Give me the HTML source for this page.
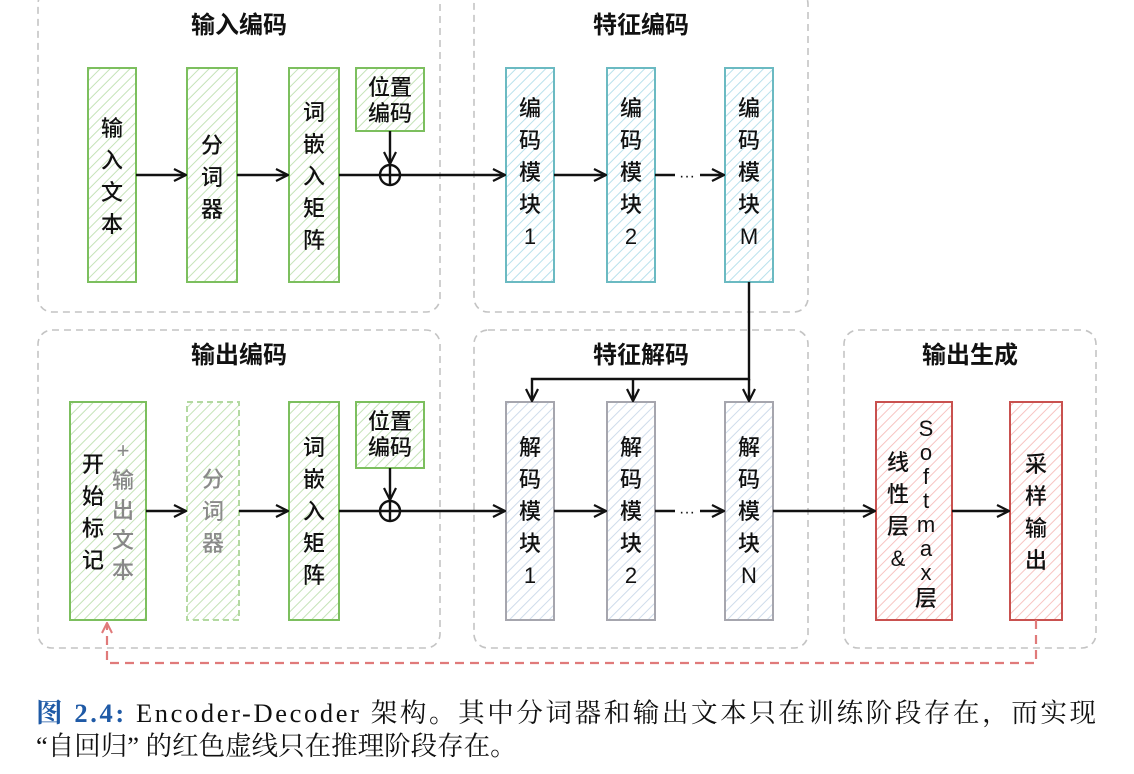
<!DOCTYPE html>
<html><head><meta charset="utf-8"><style>
html,body{margin:0;padding:0;background:#fff;}
svg{display:block;}
.t{font-family:"Liberation Sans","Noto Sans CJK SC",sans-serif;font-size:22px;fill:#111;text-anchor:middle;font-weight:500;}
.g{fill:#888;}
.h{font-family:"Liberation Sans","Noto Sans CJK SC",sans-serif;font-size:24px;font-weight:bold;fill:#111;text-anchor:middle;}
.cap{font-family:"Liberation Serif","Noto Serif CJK SC",serif;font-size:26.5px;fill:#111;}
</style></head><body>
<svg width="1134" height="774" viewBox="0 0 1134 774" xmlns="http://www.w3.org/2000/svg">
<defs>
<pattern id="pg" width="7" height="7" patternUnits="userSpaceOnUse" patternTransform="rotate(45)"><line x1="0" y1="0" x2="0" y2="7" stroke="#c5e3b8" stroke-width="2"/></pattern>
<pattern id="pb" width="7" height="7" patternUnits="userSpaceOnUse" patternTransform="rotate(45)"><line x1="0" y1="0" x2="0" y2="7" stroke="#b9e1ec" stroke-width="2"/></pattern>
<pattern id="pk" width="7" height="7" patternUnits="userSpaceOnUse" patternTransform="rotate(45)"><line x1="0" y1="0" x2="0" y2="7" stroke="#cfdceb" stroke-width="2"/></pattern>
<pattern id="pr" width="7" height="7" patternUnits="userSpaceOnUse" patternTransform="rotate(45)"><line x1="0" y1="0" x2="0" y2="7" stroke="#f7c4c2" stroke-width="2"/></pattern>
<marker id="ar" viewBox="0 0 14 14" refX="13" refY="7" markerWidth="14" markerHeight="14" markerUnits="userSpaceOnUse" orient="auto"><path d="M1,1 L13,7 L1,13 M4,7 L13,7" fill="none" stroke="#111" stroke-width="2.2"/></marker>
<marker id="arr" viewBox="0 0 12 12" refX="11" refY="6" markerWidth="12" markerHeight="12" markerUnits="userSpaceOnUse" orient="auto"><path d="M1,1 L11,6 L1,11" fill="none" stroke="#e07a7a" stroke-width="2"/></marker>
</defs>
<g fill="none" stroke="#c4c4c4" stroke-width="1.6" stroke-dasharray="7,5">
<rect x="38" y="-10" width="402" height="322" rx="14"/>
<rect x="474" y="-10" width="334" height="322" rx="14"/>
<rect x="38" y="330" width="402" height="318" rx="14"/>
<rect x="474" y="330" width="334" height="318" rx="14"/>
<rect x="844" y="330" width="252" height="318" rx="14"/>
</g>
<text class="h" x="239" y="33">输入编码</text>
<text class="h" x="641" y="33">特征编码</text>
<text class="h" x="239" y="363">输出编码</text>
<text class="h" x="641" y="363">特征解码</text>
<text class="h" x="970" y="363">输出生成</text>
<g stroke="#7cbf5e" stroke-width="2">
<rect x="88" y="68" width="48" height="214" fill="url(#pg)"/>
<rect x="187" y="68" width="50" height="214" fill="url(#pg)"/>
<rect x="289" y="68" width="50" height="214" fill="url(#pg)"/>
<rect x="356" y="68" width="68" height="63" fill="url(#pg)"/>
<rect x="70" y="402" width="76" height="218" fill="url(#pg)"/>
<rect x="289" y="402" width="50" height="218" fill="url(#pg)"/>
<rect x="356" y="402" width="68" height="66" fill="url(#pg)"/>
</g>
<rect x="187" y="402" width="52" height="218" fill="url(#pg)" stroke="#b3d9a1" stroke-width="2" stroke-dasharray="6,4"/>
<g stroke="#6bbac2" stroke-width="2" fill="url(#pb)">
<rect x="506" y="68" width="48" height="214"/><rect x="607" y="68" width="48" height="214"/><rect x="725" y="68" width="48" height="214"/>
</g>
<g stroke="#a6a6ae" stroke-width="2" fill="url(#pk)">
<rect x="506" y="402" width="48" height="218"/><rect x="607" y="402" width="48" height="218"/><rect x="725" y="402" width="48" height="218"/>
</g>
<g stroke="#c9514f" stroke-width="2" fill="url(#pr)">
<rect x="876" y="402" width="76" height="218"/><rect x="1010" y="402" width="52" height="218"/>
</g>
<g stroke="#111" stroke-width="2.4" fill="none">
<line x1="136" y1="175" x2="186" y2="175" marker-end="url(#ar)"/>
<line x1="237" y1="175" x2="288" y2="175" marker-end="url(#ar)"/>
<line x1="339" y1="175" x2="505" y2="175" marker-end="url(#ar)"/>
<line x1="390" y1="131" x2="390" y2="164" marker-end="url(#ar)"/>
<circle cx="390" cy="175" r="10" fill="#fff"/><line x1="380" y1="175" x2="400" y2="175"/><line x1="390" y1="165" x2="390" y2="185"/>
<line x1="554" y1="175" x2="606" y2="175" marker-end="url(#ar)"/>
<line x1="655" y1="175" x2="675" y2="175"/><line x1="700" y1="175" x2="724" y2="175" marker-end="url(#ar)"/>
<line x1="146" y1="511" x2="186" y2="511" marker-end="url(#ar)"/>
<line x1="239" y1="511" x2="288" y2="511" marker-end="url(#ar)"/>
<line x1="339" y1="511" x2="505" y2="511" marker-end="url(#ar)"/>
<line x1="390" y1="468" x2="390" y2="500" marker-end="url(#ar)"/>
<circle cx="390" cy="511" r="10" fill="#fff"/><line x1="380" y1="511" x2="400" y2="511"/><line x1="390" y1="501" x2="390" y2="521"/>
<line x1="554" y1="511" x2="606" y2="511" marker-end="url(#ar)"/>
<line x1="655" y1="511" x2="675" y2="511"/><line x1="700" y1="511" x2="724" y2="511" marker-end="url(#ar)"/>
<line x1="773" y1="511" x2="875" y2="511" marker-end="url(#ar)"/>
<line x1="952" y1="511" x2="1009" y2="511" marker-end="url(#ar)"/>
<polyline points="749,282 749,379 532,379 532,401" marker-end="url(#ar)"/>
<line x1="633" y1="379" x2="633" y2="401" marker-end="url(#ar)"/>
<line x1="749" y1="379" x2="749" y2="401" marker-end="url(#ar)"/>
</g>
<text class="t" x="687" y="181" style="font-size:16px">···</text>
<text class="t" x="687" y="517" style="font-size:16px">···</text>
<polyline points="1036,620 1036,663 107,663 107,623" fill="none" stroke="#e07a7a" stroke-width="2.2" stroke-dasharray="9,6" marker-end="url(#arr)"/>
<text class="t" x="112" y="136"><tspan x="112">输</tspan><tspan x="112" dy="32">入</tspan><tspan x="112" dy="32">文</tspan><tspan x="112" dy="32">本</tspan></text>
<text class="t" x="212" y="153"><tspan x="212">分</tspan><tspan x="212" dy="32">词</tspan><tspan x="212" dy="32">器</tspan></text>
<text class="t" x="314" y="120"><tspan x="314">词</tspan><tspan x="314" dy="32">嵌</tspan><tspan x="314" dy="32">入</tspan><tspan x="314" dy="32">矩</tspan><tspan x="314" dy="32">阵</tspan></text>
<text class="t" x="390" y="95"><tspan x="390">位置</tspan><tspan x="390" dy="26">编码</tspan></text>
<text class="t" x="530" y="116"><tspan x="530">编</tspan><tspan x="530" dy="32">码</tspan><tspan x="530" dy="32">模</tspan><tspan x="530" dy="32">块</tspan><tspan x="530" dy="32">1</tspan></text>
<text class="t" x="631" y="116"><tspan x="631">编</tspan><tspan x="631" dy="32">码</tspan><tspan x="631" dy="32">模</tspan><tspan x="631" dy="32">块</tspan><tspan x="631" dy="32">2</tspan></text>
<text class="t" x="749" y="116"><tspan x="749">编</tspan><tspan x="749" dy="32">码</tspan><tspan x="749" dy="32">模</tspan><tspan x="749" dy="32">块</tspan><tspan x="749" dy="32">M</tspan></text>
<text class="t" x="93" y="472"><tspan x="93">开</tspan><tspan x="93" dy="32">始</tspan><tspan x="93" dy="32">标</tspan><tspan x="93" dy="32">记</tspan></text>
<text class="t g" x="123" y="458"><tspan x="123">+</tspan><tspan x="123" dy="30">输</tspan><tspan x="123" dy="30">出</tspan><tspan x="123" dy="30">文</tspan><tspan x="123" dy="30">本</tspan></text>
<text class="t" x="213" y="487" style="fill:#8a8a8a"><tspan x="213">分</tspan><tspan x="213" dy="32">词</tspan><tspan x="213" dy="32">器</tspan></text>
<text class="t" x="314" y="455"><tspan x="314">词</tspan><tspan x="314" dy="32">嵌</tspan><tspan x="314" dy="32">入</tspan><tspan x="314" dy="32">矩</tspan><tspan x="314" dy="32">阵</tspan></text>
<text class="t" x="390" y="429"><tspan x="390">位置</tspan><tspan x="390" dy="26">编码</tspan></text>
<text class="t" x="530" y="455"><tspan x="530">解</tspan><tspan x="530" dy="32">码</tspan><tspan x="530" dy="32">模</tspan><tspan x="530" dy="32">块</tspan><tspan x="530" dy="32">1</tspan></text>
<text class="t" x="631" y="455"><tspan x="631">解</tspan><tspan x="631" dy="32">码</tspan><tspan x="631" dy="32">模</tspan><tspan x="631" dy="32">块</tspan><tspan x="631" dy="32">2</tspan></text>
<text class="t" x="749" y="455"><tspan x="749">解</tspan><tspan x="749" dy="32">码</tspan><tspan x="749" dy="32">模</tspan><tspan x="749" dy="32">块</tspan><tspan x="749" dy="32">N</tspan></text>
<text class="t" x="898" y="470"><tspan x="898">线</tspan><tspan x="898" dy="32">性</tspan><tspan x="898" dy="32">层</tspan><tspan x="898" dy="32">&amp;</tspan></text>
<text class="t" x="926" y="436"><tspan x="926">S</tspan><tspan x="926" dy="24">o</tspan><tspan x="926" dy="24">f</tspan><tspan x="926" dy="24">t</tspan><tspan x="926" dy="24">m</tspan><tspan x="926" dy="24">a</tspan><tspan x="926" dy="24">x</tspan><tspan x="926" dy="26">层</tspan></text>
<text class="t" x="1036" y="472"><tspan x="1036">采</tspan><tspan x="1036" dy="32">样</tspan><tspan x="1036" dy="32">输</tspan><tspan x="1036" dy="32">出</tspan></text>
<text class="cap" x="36" y="722" textLength="1060" lengthAdjust="spacing"><tspan fill="#1f5aa6" font-weight="bold">图 2.4:</tspan> Encoder-Decoder 架构。其中分词器和输出文本只在训练阶段存在，而实现</text>
<text class="cap" x="36" y="755">“自回归” 的红色虚线只在推理阶段存在。</text>
</svg>
</body></html>
